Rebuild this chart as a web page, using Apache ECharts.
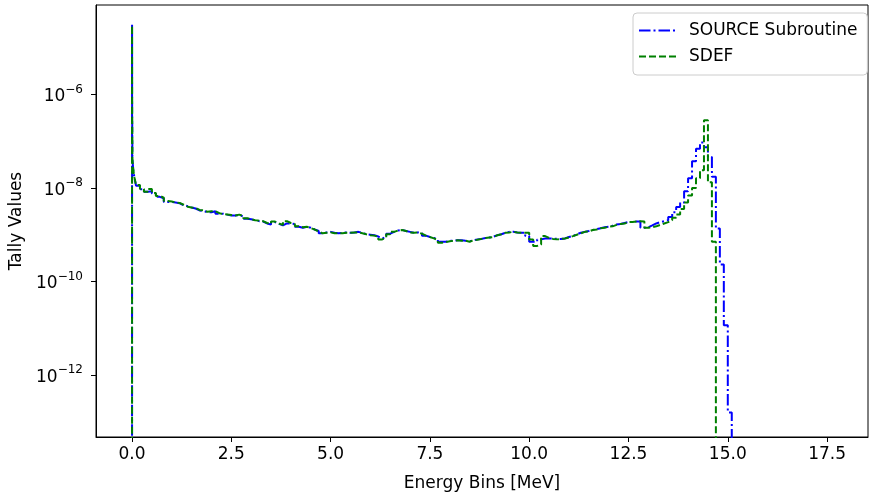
<!DOCTYPE html>
<html>
<head>
<meta charset="utf-8">
<script src="https://cdn.jsdelivr.net/npm/echarts@6/dist/echarts.min.js"></script>
<style>
html,body{margin:0;padding:0;background:#fff;}
#chart{width:869px;height:497px;}
</style>
</head>
<body>
<div id="chart"></div>
<script>
// Energy bin lower edges [MeV]: fine bins near 0, then 0.1 MeV bins
const energyEdges = [
  0, 0.001, 0.002, 0.003, 0.004, 0.005, 0.006, 0.007, 0.008, 0.009, 0.01, 0.02, 0.03, 0.045, 0.06, 0.08,
  0.1, 0.2, 0.3, 0.4, 0.5, 0.6, 0.7, 0.8, 0.9,
  1.0, 1.1, 1.2, 1.3, 1.4, 1.5, 1.6, 1.7, 1.8, 1.9,
  2.0, 2.1, 2.2, 2.3, 2.4, 2.5, 2.6, 2.7, 2.8, 2.9,
  3.0, 3.1, 3.2, 3.3, 3.4, 3.5, 3.6, 3.7, 3.8, 3.9,
  4.0, 4.1, 4.2, 4.3, 4.4, 4.5, 4.6, 4.7, 4.8, 4.9,
  5.0, 5.1, 5.2, 5.3, 5.4, 5.5, 5.6, 5.7, 5.8, 5.9,
  6.0, 6.1, 6.2, 6.3, 6.4, 6.5, 6.6, 6.7, 6.8, 6.9,
  7.0, 7.1, 7.2, 7.3, 7.4, 7.5, 7.6, 7.7, 7.8, 7.9,
  8.0, 8.1, 8.2, 8.3, 8.4, 8.5, 8.6, 8.7, 8.8, 8.9,
  9.0, 9.1, 9.2, 9.3, 9.4, 9.5, 9.6, 9.7, 9.8, 9.9,
  10.0, 10.1, 10.2, 10.3, 10.4, 10.5, 10.6, 10.7, 10.8, 10.9,
  11.0, 11.1, 11.2, 11.3, 11.4, 11.5, 11.6, 11.7, 11.8, 11.9,
  12.0, 12.1, 12.2, 12.3, 12.4, 12.5, 12.6, 12.7, 12.8, 12.9,
  13.0, 13.1, 13.2, 13.3, 13.4, 13.5, 13.6, 13.7, 13.8, 13.9,
  14.0, 14.1, 14.2, 14.3, 14.4, 14.5, 14.6, 14.7, 14.8, 14.9,
  15.0, 15.1, 15.2
];

// Tally values, SOURCE Subroutine
const sourceSubroutine = [
  0, 3.09e-5, 1.23e-6, 4.79e-7, 3.16e-7, 2.40e-7, 1.91e-7, 1.41e-7, 8.91e-8, 5.62e-8, 4.17e-8, 3.16e-8, 2.51e-8, 2.00e-8, 1.66e-8, 1.38e-8,
  1.12e-8, 9.33e-9, 8.32e-9, 8.51e-9, 7.59e-9, 6.46e-9, 6.03e-9, 5.01e-9, 5.01e-9,
  4.90e-9, 4.68e-9, 4.27e-9, 4.07e-9, 3.80e-9, 3.63e-9, 3.31e-9, 3.24e-9, 3.02e-9, 3.02e-9,
  3.16e-9, 2.82e-9, 2.82e-9, 2.69e-9, 2.57e-9, 2.57e-9, 2.63e-9, 2.45e-9, 2.19e-9, 2.14e-9,
  2.04e-9, 1.95e-9, 1.91e-9, 1.74e-9, 1.66e-9, 1.86e-9, 1.70e-9, 1.58e-9, 1.74e-9, 1.74e-9,
  1.70e-9, 1.48e-9, 1.41e-9, 1.48e-9, 1.41e-9, 1.29e-9, 1.20e-9, 1.07e-9, 1.12e-9, 1.15e-9,
  1.10e-9, 1.07e-9, 1.10e-9, 1.12e-9, 1.10e-9, 1.12e-9, 1.15e-9, 1.10e-9, 1.02e-9, 1.00e-9,
  9.77e-10, 9.12e-10, 8.32e-10, 8.91e-10, 1.05e-9, 1.15e-9, 1.23e-9, 1.26e-9, 1.20e-9, 1.15e-9,
  1.10e-9, 1.12e-9, 1.07e-9, 9.55e-10, 8.91e-10, 8.51e-10, 7.94e-10, 7.08e-10, 7.08e-10, 7.41e-10,
  7.41e-10, 7.59e-10, 7.59e-10, 7.41e-10, 7.24e-10, 7.59e-10, 7.94e-10, 8.13e-10, 8.51e-10, 8.71e-10,
  9.12e-10, 9.77e-10, 1.02e-9, 1.10e-9, 1.15e-9, 1.15e-9, 1.12e-9, 1.10e-9, 1.10e-9, 9.33e-10,
  7.08e-10, 7.08e-10, 7.94e-10, 8.32e-10, 8.32e-10, 8.32e-10, 8.13e-10, 8.13e-10, 8.32e-10, 8.91e-10,
  9.33e-10, 1.02e-9, 1.10e-9, 1.15e-9, 1.20e-9, 1.26e-9, 1.32e-9, 1.38e-9, 1.45e-9, 1.48e-9,
  1.55e-9, 1.66e-9, 1.70e-9, 1.78e-9, 1.86e-9, 1.86e-9, 1.91e-9, 1.91e-9, 1.41e-9, 1.45e-9,
  1.58e-9, 1.74e-9, 1.86e-9, 1.95e-9, 2.04e-9, 2.40e-9, 3.02e-9, 3.89e-9, 4.90e-9, 8.51e-9,
  1.62e-8, 3.72e-8, 6.92e-8, 9.33e-8, 7.41e-8, 4.57e-8, 1.74e-8, 1.35e-9, 2.29e-10, 1.15e-11,
  1.58e-13, 0, 0
];

// Tally values, SDEF
const sdef = [
  0, 3.00e-5, 1.26e-6, 4.90e-7, 3.20e-7, 2.45e-7, 1.95e-7, 1.45e-7, 9.10e-8, 5.80e-8, 4.20e-8, 3.20e-8, 2.55e-8, 2.05e-8, 1.70e-8, 1.40e-8,
  1.15e-8, 9.55e-9, 8.32e-9, 9.55e-9, 7.76e-9, 6.76e-9, 6.17e-9, 5.25e-9, 5.13e-9,
  4.90e-9, 4.79e-9, 4.37e-9, 3.98e-9, 3.80e-9, 3.72e-9, 3.39e-9, 3.31e-9, 3.09e-9, 3.16e-9,
  3.16e-9, 2.88e-9, 2.75e-9, 2.69e-9, 2.63e-9, 2.57e-9, 2.69e-9, 2.51e-9, 2.24e-9, 2.14e-9,
  2.04e-9, 2.00e-9, 1.95e-9, 1.78e-9, 1.70e-9, 1.91e-9, 1.74e-9, 1.62e-9, 1.95e-9, 1.78e-9,
  1.70e-9, 1.51e-9, 1.45e-9, 1.48e-9, 1.38e-9, 1.29e-9, 1.17e-9, 1.07e-9, 1.10e-9, 1.12e-9,
  1.07e-9, 1.07e-9, 1.07e-9, 1.10e-9, 1.10e-9, 1.12e-9, 1.12e-9, 1.07e-9, 1.02e-9, 9.77e-10,
  9.55e-10, 9.12e-10, 7.94e-10, 8.71e-10, 1.02e-9, 1.15e-9, 1.23e-9, 1.26e-9, 1.20e-9, 1.12e-9,
  1.10e-9, 1.12e-9, 1.05e-9, 9.55e-10, 8.91e-10, 8.32e-10, 7.76e-10, 6.76e-10, 6.92e-10, 7.24e-10,
  7.41e-10, 7.59e-10, 7.41e-10, 7.41e-10, 7.08e-10, 7.59e-10, 7.76e-10, 8.13e-10, 8.51e-10, 8.71e-10,
  8.91e-10, 9.77e-10, 1.02e-9, 1.10e-9, 1.12e-9, 1.15e-9, 1.12e-9, 1.10e-9, 1.10e-9, 1.10e-9,
  7.94e-10, 5.75e-10, 6.17e-10, 9.33e-10, 8.51e-10, 8.13e-10, 7.94e-10, 8.13e-10, 8.32e-10, 8.71e-10,
  9.33e-10, 1.00e-9, 1.07e-9, 1.15e-9, 1.17e-9, 1.26e-9, 1.29e-9, 1.38e-9, 1.41e-9, 1.48e-9,
  1.51e-9, 1.62e-9, 1.70e-9, 1.74e-9, 1.86e-9, 1.86e-9, 1.91e-9, 1.95e-9, 1.91e-9, 1.41e-9,
  1.45e-9, 1.51e-9, 1.62e-9, 1.74e-9, 1.86e-9, 2.04e-9, 2.29e-9, 2.69e-9, 3.55e-9, 4.90e-9,
  6.92e-9, 1.00e-8, 1.62e-8, 2.40e-8, 2.82e-7, 1.32e-8, 7.08e-10, 0, 0, 0,
  0, 0, 0
];

const seriesNames = ['SOURCE Subroutine', 'SDEF'];
const xTickValues = [0, 2.5, 5, 7.5, 10, 12.5, 15, 17.5];
const yTickValues = [1e-12, 1e-10, 1e-8, 1e-6];

const FONT = 'DejaVu Sans';
const FS = 17;
const ZERO_FLOOR = 1e-40; // zero tallies fall below the log axis

function toPoints(vals) {
  return energyEdges.map((e, i) => [e, vals[i] > 0 ? vals[i] : ZERO_FLOOR]);
}

function expOf(v) {
  return Math.round(Math.log10(v));
}

const chart = echarts.init(document.getElementById('chart'), null, {renderer: 'canvas'});
chart.setOption({
  animation: false,
  backgroundColor: '#ffffff',
  grid: {left: 96, right: 1, top: 5, bottom: 54, show: true, borderColor: '#000', borderWidth: 1, backgroundColor: 'transparent'},
  legend: {
    data: seriesNames,
    orient: 'vertical',
    left: 633, top: 13,
    padding: [9, 10, 10, 5],
    itemWidth: 37, itemHeight: 14, itemGap: 9,
    backgroundColor: 'rgba(255,255,255,0.8)',
    borderColor: '#cccccc', borderWidth: 1, borderRadius: 4,
    itemStyle: {opacity: 0},
    textStyle: {fontFamily: FONT, fontSize: FS, color: '#000', padding: [0, 0, 0, 8]}
  },
  xAxis: {
    type: 'value', min: -0.907, max: 18.53,
    name: 'Energy Bins [MeV]', nameLocation: 'middle', nameGap: 38,
    nameTextStyle: {fontFamily: FONT, fontSize: FS, color: '#000'},
    axisLine: {show: true, onZero: false, lineStyle: {color: '#000', width: 1}},
    axisTick: {show: true, inside: false, length: 5, customValues: xTickValues, lineStyle: {color: '#000', width: 1}},
    axisLabel: {customValues: xTickValues, margin: 9, fontFamily: FONT, fontSize: FS, color: '#000',
      formatter: v => Number(v).toFixed(1)},
    splitLine: {show: false}
  },
  yAxis: {
    type: 'log', logBase: 10, min: 4.7e-14, max: 8.2e-5,
    name: 'Tally Values', nameLocation: 'middle', nameGap: 69, nameRotate: 90,
    nameTextStyle: {fontFamily: FONT, fontSize: FS, color: '#000'},
    axisLine: {show: true, onZero: false, lineStyle: {color: '#000', width: 1}},
    axisTick: {show: true, length: 5, customValues: yTickValues, lineStyle: {color: '#000', width: 1}},
    minorTick: {show: false},
    axisLabel: {
      customValues: yTickValues, margin: 13,
      formatter: v => '{b|10}{s|\u2212' + Math.abs(expOf(v)) + '}',
      rich: {
        b: {fontFamily: FONT, fontSize: FS, color: '#000', lineHeight: 22, verticalAlign: 'bottom'},
        s: {fontFamily: FONT, fontSize: 12, color: '#000', lineHeight: 12, verticalAlign: 'top'}
      }
    },
    splitLine: {show: false}
  },
  series: [
    {
      name: seriesNames[0], type: 'line', step: 'end', showSymbol: false, symbol: 'none', clip: true,
      data: toPoints(sourceSubroutine),
      lineStyle: {color: '#0000ff', width: 2, type: [11.5, 3, 2, 3]},
      itemStyle: {color: '#0000ff'}, z: 2
    },
    {
      name: seriesNames[1], type: 'line', step: 'end', showSymbol: false, symbol: 'none', clip: true,
      data: toPoints(sdef),
      lineStyle: {color: '#008000', width: 2, type: [7, 3]},
      itemStyle: {color: '#008000'}, z: 3
    }
  ]
});
</script>
</body>
</html>
